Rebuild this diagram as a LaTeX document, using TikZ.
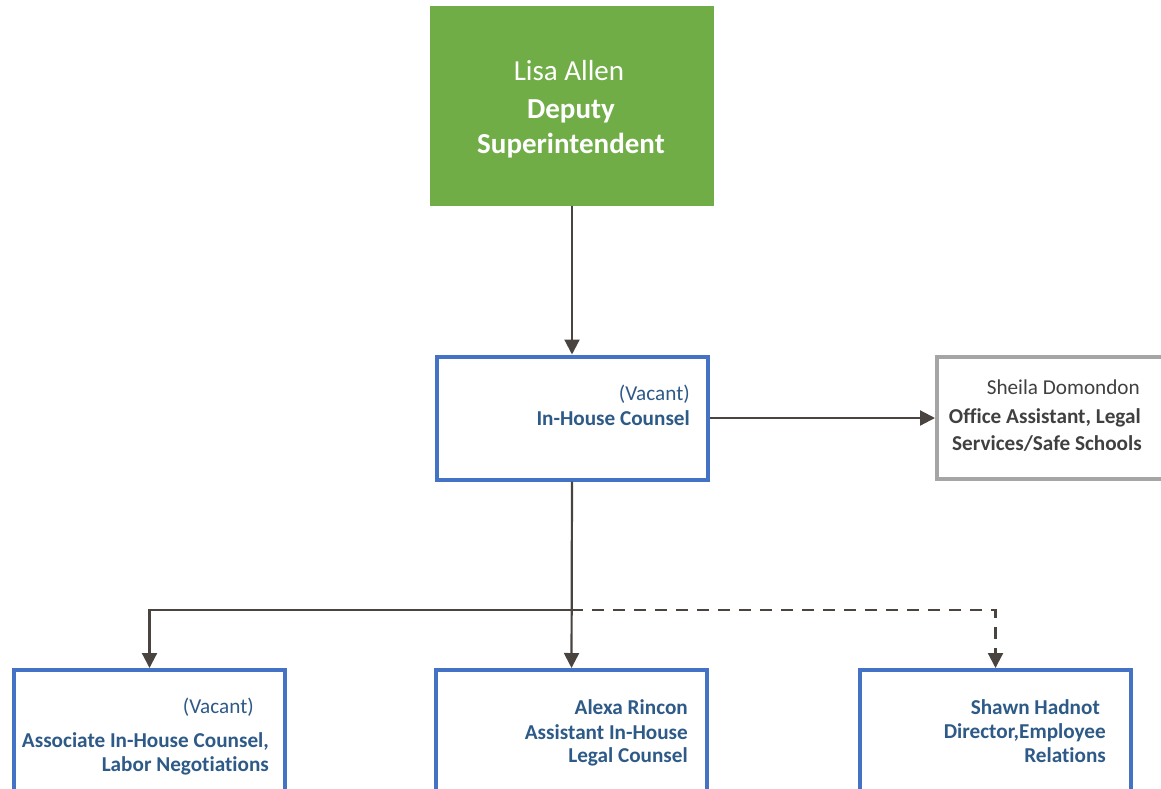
\documentclass[tikz,border=0pt]{standalone}
\usepackage{fontspec}
\setmainfont{Carlito}[Ligatures={NoCommon}]
\usetikzlibrary{arrows.meta}
\definecolor{topgreen}{HTML}{70AD47}
\definecolor{boxblue}{HTML}{4472C4}
\definecolor{boxgray}{HTML}{A5A5A5}
\definecolor{txtblue}{HTML}{2E5A88}
\definecolor{txtgray}{HTML}{404040}
\definecolor{linecol}{HTML}{4A4440}
\begin{document}
\begin{tikzpicture}[x=1pt,y=-1pt,
  bluebox/.style={draw=boxblue,line width=4pt,fill=white},
  graybox/.style={draw=boxgray,line width=4pt,fill=white},
  conn/.style={draw=linecol,line width=2.2pt,-{Triangle[length=15pt,width=15pt]}},
  ln/.style={font=\fontsize{21.2}{24}\selectfont,anchor=east,inner sep=0pt},
  bln/.style={font=\fontsize{21.2}{24}\selectfont\bfseries,anchor=east,inner sep=0pt},
]
\useasboundingbox (0,0) rectangle (1161,789);
\begin{scope}
\clip (0,0) rectangle (1161,789);
% top box
\node[fill=topgreen,minimum width=284pt,minimum height=199pt,inner sep=0pt] (top) at (572,106) {};
\node[text=white,font=\fontsize{29}{32}\selectfont] (topname) at (569,71) {Lisa Allen};
\node[text=white,font=\fontsize{29}{32}\selectfont\bfseries] (toptitle1) at (571,111) {Deputy};
\node[text=white,font=\fontsize{29}{32}\selectfont\bfseries] (toptitle2) at (571,146) {Superintendent};
% middle box
\node[bluebox,minimum width=271pt,minimum height=123pt,inner sep=0pt] (mid) at (572,418) {};
\node[ln,text=txtblue] (mid1) at (690,394) {(Vacant)};
\node[bln,text=txtblue] (mid2) at (690,418) {In-House Counsel};
% right box
\node[graybox,minimum width=300pt,minimum height=122pt,inner sep=0pt,anchor=west] (side) at (935,418) {};
\node[ln,text=txtgray] (side1) at (1140,387) {Sheila Domondon};
\node[bln,text=txtgray] (side2) at (1141,418) {Office Assistant, Legal};
\node[bln,text=txtgray] (side3) at (1142,444) {Services/Safe Schools};
% bottom boxes
\node[bluebox,minimum width=271pt,minimum height=160pt,inner sep=0pt,anchor=north] (b1) at (149.5,668) {};
\node[bluebox,minimum width=271pt,minimum height=160pt,inner sep=0pt,anchor=north] (b2) at (571.5,668) {};
\node[bluebox,minimum width=271pt,minimum height=160pt,inner sep=0pt,anchor=north] (b3) at (995.5,668) {};
\node[ln,text=txtblue] (b1a) at (254,707) {(Vacant)};
\node[bln,text=txtblue] (b1b) at (269,741) {Associate In-House Counsel,};
\node[bln,text=txtblue] (b1c) at (269,766) {Labor Negotiations};
\node[bln,text=txtblue] (b2a) at (688,707) {Alexa Rincon};
\node[bln,text=txtblue] (b2b) at (688,732) {Assistant In-House};
\node[bln,text=txtblue] (b2c) at (688,757) {Legal Counsel};
\node[bln,text=txtblue] (b3a) at (1100,707) {Shawn Hadnot};
\node[bln,text=txtblue] (b3b) at (1106,733) {Director,Employee};
\node[bln,text=txtblue] (b3c) at (1106,755) {Relations};
% connectors
\coordinate (split) at (571,610);
\draw[conn] (top.south) -- (mid.north);
\draw[conn] (mid.east) -- (side.west);
\draw[conn] (mid.south) -- (b2.north);
\draw[conn] (split) -| (b1.north);
\draw[conn,dash pattern=on 12pt off 9pt] (split) -| (b3.north);
\end{scope}
\end{tikzpicture}
\end{document}
